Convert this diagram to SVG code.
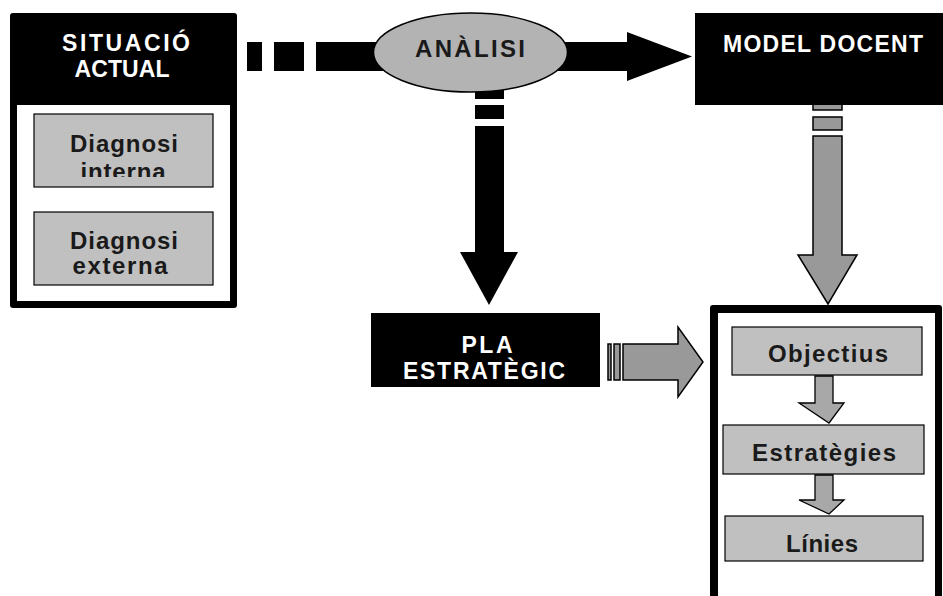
<svg xmlns="http://www.w3.org/2000/svg" width="943" height="596" viewBox="0 0 943 596">
<style>
text{font-family:"Liberation Sans",Arial,sans-serif;font-weight:bold;text-anchor:middle}
.w{fill:#ffffff;font-size:23px}
.k{fill:#1a1a1a;font-size:24px}
.blk{fill:#000000}
.box{fill:#c0c0c0;stroke:#000000;stroke-width:1.2}
.garr{fill:#999999;stroke:#000000;stroke-width:1.5;stroke-linejoin:miter}
.sarr{fill:#a8a8a8;stroke:#000000;stroke-width:1.3}
</style>
<defs>
<clipPath id="clipInt"><rect x="34" y="114" width="179" height="63"/></clipPath>
</defs>
<rect width="943" height="596" fill="#ffffff"/>

<g id="situacio-actual">
  <rect x="10" y="13" width="227" height="295" rx="3" fill="#000000"/>
  <rect x="17" y="105" width="213" height="196" fill="#ffffff"/>
  <text class="w" x="126" y="51" textLength="128" lengthAdjust="spacing">SITUACIÓ</text>
  <text class="w" x="122" y="77" textLength="95" lengthAdjust="spacing">ACTUAL</text>
</g>

<g id="bloc-pla">
  <rect x="710" y="305" width="232" height="300" rx="3" fill="#000000"/>
  <rect x="718" y="313" width="217" height="300" fill="#ffffff"/>
</g>

<g id="connectors">
  <g id="c-situacio-model">
    <rect class="blk" x="247" y="42" width="15" height="29"/>
    <rect class="blk" x="274" y="42" width="30" height="29"/>
    <rect class="blk" x="316" y="42" width="312" height="29"/>
    <polygon class="blk" points="627,32 692,56.5 627,81"/>
  </g>
  <g id="c-analisi-pla">
    <rect class="blk" x="475" y="80" width="29" height="19"/>
    <rect class="blk" x="475" y="105" width="29" height="14"/>
    <rect class="blk" x="475" y="126" width="29" height="127"/>
    <polygon class="blk" points="460,252 518,252 489,305"/>
  </g>
  <g id="c-model-bloc">
    <rect class="garr" x="813" y="100" width="29" height="10"/>
    <rect class="garr" x="813" y="117" width="29" height="13"/>
    <polygon class="garr" points="813,136 842,136 842,255 857,255 828,304 798,255 813,255"/>
  </g>
  <g id="c-pla-bloc">
    <rect class="garr" x="608" y="344" width="3" height="36"/>
    <rect class="garr" x="614" y="344" width="6" height="36"/>
    <polygon class="garr" points="623,344 678,344 678,327 703,362 678,397 678,380 623,380"/>
  </g>
  <polygon id="c-obj-est" class="sarr" points="815,376 833,376 833,403 844,403 829,423 799,403 815,403"/>
  <polygon id="c-est-lin" class="sarr" points="815,475 833,475 833,500 844,500 829,514 799,500 815,500"/>
</g>

<g id="diagnosi-interna">
  <rect class="box" x="34" y="114" width="179" height="73"/>
  <text class="k" x="124" y="152" textLength="108" lengthAdjust="spacing">Diagnosi</text>
  <text class="k" x="123" y="180" textLength="85" lengthAdjust="spacing" clip-path="url(#clipInt)">interna</text>
</g>

<g id="diagnosi-externa">
  <rect class="box" x="34" y="212" width="179" height="73"/>
  <text class="k" x="124" y="249" textLength="108" lengthAdjust="spacing">Diagnosi</text>
  <text class="k" x="120" y="274" textLength="95" lengthAdjust="spacing">externa</text>
</g>

<g id="analisi">
  <ellipse cx="470.5" cy="52.5" rx="97" ry="39.5" fill="#b3b3b3" stroke="#000000" stroke-width="1.5"/>
  <text class="k" x="470" y="57" textLength="110" lengthAdjust="spacing" font-size="23">ANÀLISI</text>
</g>

<g id="model-docent">
  <rect x="695" y="13" width="260" height="92" fill="#000000"/>
  <text class="w" x="823" y="52" textLength="200" lengthAdjust="spacing">MODEL DOCENT</text>
</g>

<g id="pla-estrategic">
  <rect x="371" y="313" width="229" height="74" fill="#000000"/>
  <text class="w" x="487" y="353" textLength="51" lengthAdjust="spacing">PLA</text>
  <text class="w" x="484" y="379" textLength="162" lengthAdjust="spacing">ESTRATÈGIC</text>
</g>

<g id="objectius">
  <rect class="box" x="732" y="327" width="190" height="48"/>
  <text class="k" x="828" y="362" textLength="120" lengthAdjust="spacing">Objectius</text>
</g>

<g id="estrategies">
  <rect class="box" x="723" y="425" width="201" height="49"/>
  <text class="k" x="824" y="461" textLength="144" lengthAdjust="spacing">Estratègies</text>
</g>

<g id="linies">
  <rect class="box" x="725" y="516" width="198" height="45"/>
  <text class="k" x="822" y="552" textLength="72" lengthAdjust="spacing">Línies</text>
</g>
</svg>
